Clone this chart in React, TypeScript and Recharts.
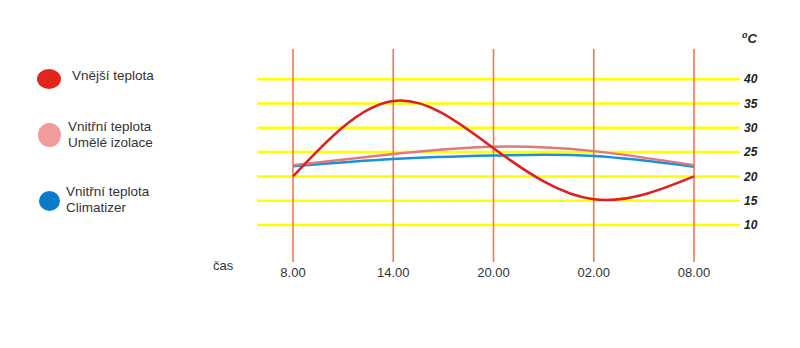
import React from 'react'
import {
  LineChart,
  Line,
  XAxis,
  YAxis,
  ReferenceLine,
} from 'recharts'

// časové body (osa x)
const times = ['8.00', '14.00', '20.00', '02.00', '08.00']

// teploty ve °C
const outside = [20, 35.5, 25.8, 15.3, 20]
const insulation = [22.3, 24.6, 26.1, 25.2, 22.3]
const climatizer = [22.1, 23.6, 24.3, 24.2, 22.0]

const tempTicks = [10, 15, 20, 25, 30, 35, 40]

const data = times.map((t, i) => ({
  time: t,
  outside: outside[i],
  insulation: insulation[i],
  climatizer: climatizer[i],
}))

const font = "'Liberation Sans', Arial, sans-serif"

const legendItems = [
  { color: '#e2261d', lines: ['Vnější teplota'], top: 69, textTop: 68, textLeft: 72, w: 24, h: 20 },
  { color: '#f29b9c', lines: ['Vnitřní teplota', 'Umělé izolace'], top: 123, textTop: 119, textLeft: 68, w: 23, h: 24 },
  { color: '#0b7bc9', lines: ['Vnitřní teplota', 'Climatizer'], top: 191, textTop: 184, textLeft: 66, w: 21, h: 20 },
]

export default function App() {
  return (
    <div style={{ position: 'absolute', left: 0, top: 0, width: 800, height: 348, background: '#fff', fontFamily: font }}>
      <LineChart
        width={800}
        height={348}
        data={data}
        margin={{ top: 49, right: 0, bottom: 56, left: 257 }}
      >
        <XAxis
          dataKey="time"
          height={30}
          padding={{ left: 36, right: 46 }}
          axisLine={false}
          tickLine={false}
          tickSize={0}
          tickMargin={6}
          tick={{ fill: '#333', fontSize: 13, fontFamily: font }}
        />
        <YAxis
          orientation="right"
          width={60}
          domain={[2.4, 46.2]}
          ticks={tempTicks}
          axisLine={false}
          tickLine={false}
          tickSize={0}
          tickMargin={4}
          tick={{ fill: '#222', fontSize: 12, fontWeight: 'bold', fontStyle: 'italic', fontFamily: font }}
        />

        {/* vodorovné žluté čáry */}
        {tempTicks.map(v => (
          <ReferenceLine key={'h' + v} y={v} stroke="#ffff00" strokeWidth={2.5} />
        ))}
        {/* svislé čáry časů */}
        {times.map(t => (
          <ReferenceLine key={'v' + t} x={t} stroke="#f07a4c" strokeWidth={1.6} />
        ))}

        <Line type="natural" dataKey="climatizer" stroke="#1a8fdc" strokeWidth={2.5} dot={false} isAnimationActive={false} />
        <Line type="natural" dataKey="insulation" stroke="#e07880" strokeWidth={2.5} dot={false} isAnimationActive={false} />
        <Line type="natural" dataKey="outside" stroke="#de1f1a" strokeWidth={2.5} dot={false} isAnimationActive={false} />
      </LineChart>

      {/* jednotka */}
      <div style={{ position: 'absolute', left: 742, top: 30, fontSize: 13, fontWeight: 'bold', fontStyle: 'italic', color: '#222' }}>
        <sup style={{ fontSize: 9 }}>o</sup>C
      </div>

      {/* popisek osy x */}
      <div style={{ position: 'absolute', left: 213, top: 258, fontSize: 13, color: '#333' }}>čas</div>

      {/* legenda */}
      {legendItems.map((it, i) => (
        <React.Fragment key={i}>
          <div
            style={{
              position: 'absolute',
              left: 49 - it.w / 2,
              top: it.top,
              width: it.w,
              height: it.h,
              borderRadius: '50%',
              background: it.color,
            }}
          />
          <div style={{ position: 'absolute', left: it.textLeft, top: it.textTop, fontSize: 13.5, lineHeight: '16px', color: '#333' }}>
            {it.lines.map((l, j) => (
              <div key={j}>{l}</div>
            ))}
          </div>
        </React.Fragment>
      ))}
    </div>
  )
}
